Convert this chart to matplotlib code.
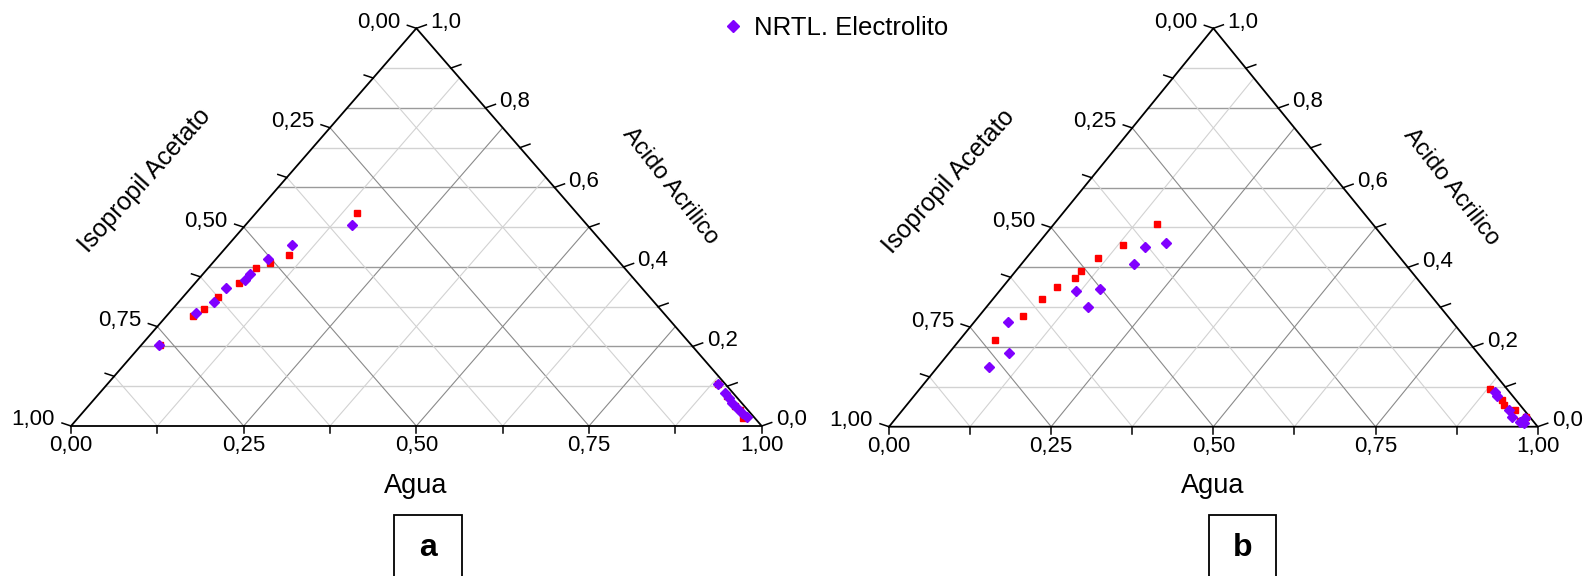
"""Ternary diagrams Agua / Acido Acrilico / Isopropil Acetato, panels a and b."""

import matplotlib
matplotlib.use("Agg")
import matplotlib.pyplot as plt
from matplotlib.lines import Line2D
from matplotlib.patches import Rectangle

plt.rcParams["font.family"] = ["Liberation Sans", "DejaVu Sans"]

# panel a - experimental (red squares)
exp_a_agua = [0.146, 0.100, 0.082, 0.069, 0.064, 0.051, 0.046, 0.038, 0.027,
              0.884, 0.912, 0.936, 0.949, 0.964]
exp_a_acido = [0.536, 0.430, 0.411, 0.397, 0.359, 0.325, 0.294, 0.277, 0.204,
               0.105, 0.075, 0.050, 0.040, 0.019]
# panel a - NRTL electrolito (purple diamonds)
nrtl_a_agua = [0.154, 0.093, 0.076, 0.068, 0.068, 0.051, 0.051, 0.040, 0.026,
               0.884, 0.905, 0.917, 0.928, 0.942, 0.955, 0.967]
nrtl_a_acido = [0.505, 0.455, 0.419, 0.382, 0.367, 0.346, 0.311, 0.283, 0.204,
                0.106, 0.084, 0.070, 0.057, 0.045, 0.032, 0.022]

# panel b - experimental
exp_b_agua = [0.158, 0.132, 0.110, 0.100, 0.100, 0.084, 0.075, 0.068, 0.055,
              0.880, 0.911, 0.920, 0.944, 0.965, 0.969]
exp_b_acido = [0.509, 0.456, 0.424, 0.392, 0.374, 0.351, 0.321, 0.277, 0.218,
               0.094, 0.067, 0.055, 0.042, 0.015, 0.025]
# panel b - NRTL electrolito
nrtl_b_agua = [0.196, 0.168, 0.174, 0.153, 0.119, 0.156, 0.052, 0.093, 0.079,
               0.890, 0.899, 0.934, 0.948, 0.966, 0.970, 0.974]
nrtl_b_acido = [0.462, 0.452, 0.408, 0.346, 0.340, 0.300, 0.264, 0.185, 0.149,
                0.088, 0.077, 0.042, 0.024, 0.013, 0.021, 0.009]

left_ticks = [0.00, 0.25, 0.50, 0.75, 1.00]     # Isopropil Acetato
right_ticks = [0.0, 0.2, 0.4, 0.6, 0.8, 1.0]    # Acido Acrilico
bottom_ticks = [0.00, 0.25, 0.50, 0.75, 1.00]   # Agua

W_PX, H_PX = 1585, 576
RED = "#ff0000"
PURPLE = "#8000ff"
MAJOR = "#9a9a9a"
MINOR = "#d2d2d2"
TICK_FS = 16


def comma(v, nd):
    return f"{v:.{nd}f}".replace(".", ",")


def to_xy(agua, acido):
    return [w + a / 2 for w, a in zip(agua, acido)], list(acido)


def draw_panel(ax, box, exp_agua, exp_acido, nrtl_agua, nrtl_acido):
    wpx, hpx = box[2] * W_PX, box[3] * H_PX
    px, py = 1 / wpx, 1 / hpx
    ax.set_xlim(0, 1)
    ax.set_ylim(0, 1)
    ax.axis("off")

    # grid
    for k in range(1, 10):
        a = k / 10
        ax.plot([a / 2, 1 - a / 2], [a, a], color=MAJOR if k % 2 == 0 else MINOR,
                lw=1.0, zorder=1)
    for k in range(1, 8):
        c = k / 8
        col = "#8a8a8a" if k % 2 == 0 else MINOR
        ax.plot([c, (1 + c) / 2], [0, 1 - c], color=col, lw=0.8, zorder=1)
        ax.plot([1 - c, (1 - c) / 2], [0, 1 - c], color=col, lw=0.8, zorder=1)

    # frame
    ax.plot([0, 1, 0.5, 0], [0, 0, 1, 0], color="black", lw=1.3, zorder=3,
            clip_on=False, solid_joinstyle="miter")

    # ticks
    for k in range(9):
        x = k / 8
        ax.plot([x, x], [0, -7 * py], color="black", lw=1.1, clip_on=False)
        iso = k / 8
        lx, ly = (1 - iso) / 2, 1 - iso
        ax.plot([lx, lx - 9 * px], [ly, ly + 3 * py], color="black", lw=1.1,
                clip_on=False)
    for k in range(11):
        a = k / 10
        rx, ry = 1 - a / 2, a
        ax.plot([rx, rx + 10 * px], [ry, ry + 3.5 * py], color="black", lw=1.1,
                clip_on=False)

    # tick labels
    for v in bottom_ticks:
        ax.annotate(comma(v, 2), (v, 0), xytext=(0, -9), textcoords="offset pixels",
                    ha="center", va="top", fontsize=TICK_FS)
    for v in left_ticks:
        ax.annotate(comma(v, 2), ((1 - v) / 2, 1 - v), xytext=(-16, 6),
                    textcoords="offset pixels", ha="right", va="center",
                    fontsize=TICK_FS)
    for v in right_ticks:
        ax.annotate(comma(v, 1), (1 - v / 2, v), xytext=(14, 6),
                    textcoords="offset pixels", ha="left", va="center",
                    fontsize=TICK_FS)

    # data
    x, y = to_xy(exp_agua, exp_acido)
    ax.plot(x, y, ls="none", marker="s", ms=5, color=RED, mec=RED, zorder=4,
            clip_on=False)
    x, y = to_xy(nrtl_agua, nrtl_acido)
    ax.plot(x, y, ls="none", marker="D", ms=5.5, color=PURPLE, mec=PURPLE, zorder=5,
            clip_on=False)


def fig_text(fig, xpx, ypx, s, **kw):
    fig.text(xpx / W_PX, 1 - ypx / H_PX, s, ha="center", va="center", **kw)


def main():
    fig = plt.figure(figsize=(W_PX / 100, H_PX / 100), dpi=100)

    box_a = [71 / W_PX, 1 - 426 / H_PX, 690.7 / W_PX, 397.7 / H_PX]
    box_b = [889 / W_PX, 1 - 426.7 / H_PX, 648.7 / W_PX, 398.4 / H_PX]
    ax_a = fig.add_axes(box_a)
    ax_b = fig.add_axes(box_b)
    draw_panel(ax_a, box_a, exp_a_agua, exp_a_acido, nrtl_a_agua, nrtl_a_acido)
    draw_panel(ax_b, box_b, exp_b_agua, exp_b_acido, nrtl_b_agua, nrtl_b_acido)

    # axis titles
    fig_text(fig, 416, 486, "Agua", fontsize=19.5)
    fig_text(fig, 1213, 486, "Agua", fontsize=19.5)
    fig_text(fig, 145, 180, "Isopropil Acetato", fontsize=18, rotation=48)
    fig_text(fig, 949, 181, "Isopropil Acetato", fontsize=18, rotation=48)
    fig_text(fig, 670, 186, "Acido Acrilico", fontsize=17, rotation=-52)
    fig_text(fig, 1451, 187, "Acido Acrilico", fontsize=17, rotation=-52)

    # legend
    handle = Line2D([], [], ls="none", marker="D", ms=6, color=PURPLE)
    fig.legend([handle], ["NRTL. Electrolito"], loc="center left",
               bbox_to_anchor=(721 / W_PX, 1 - 28 / H_PX), frameon=False,
               handlelength=0.9, handletextpad=0.4, borderpad=0, borderaxespad=0,
               fontsize=18.5)

    # panel letters
    for x0, x1, letter in [(394, 462, "a"), (1209, 1276, "b")]:
        fig.add_artist(Rectangle((x0 / W_PX, -0.02), (x1 - x0) / W_PX,
                                 1.02 - 515 / H_PX, transform=fig.transFigure,
                                 fill=False, ec="black", lw=1.3))
        fig_text(fig, (x0 + x1) / 2, 548, letter, fontsize=23, fontweight="bold")

    fig.savefig("out.png", dpi=100)
    plt.close(fig)


if __name__ == "__main__":
    main()
